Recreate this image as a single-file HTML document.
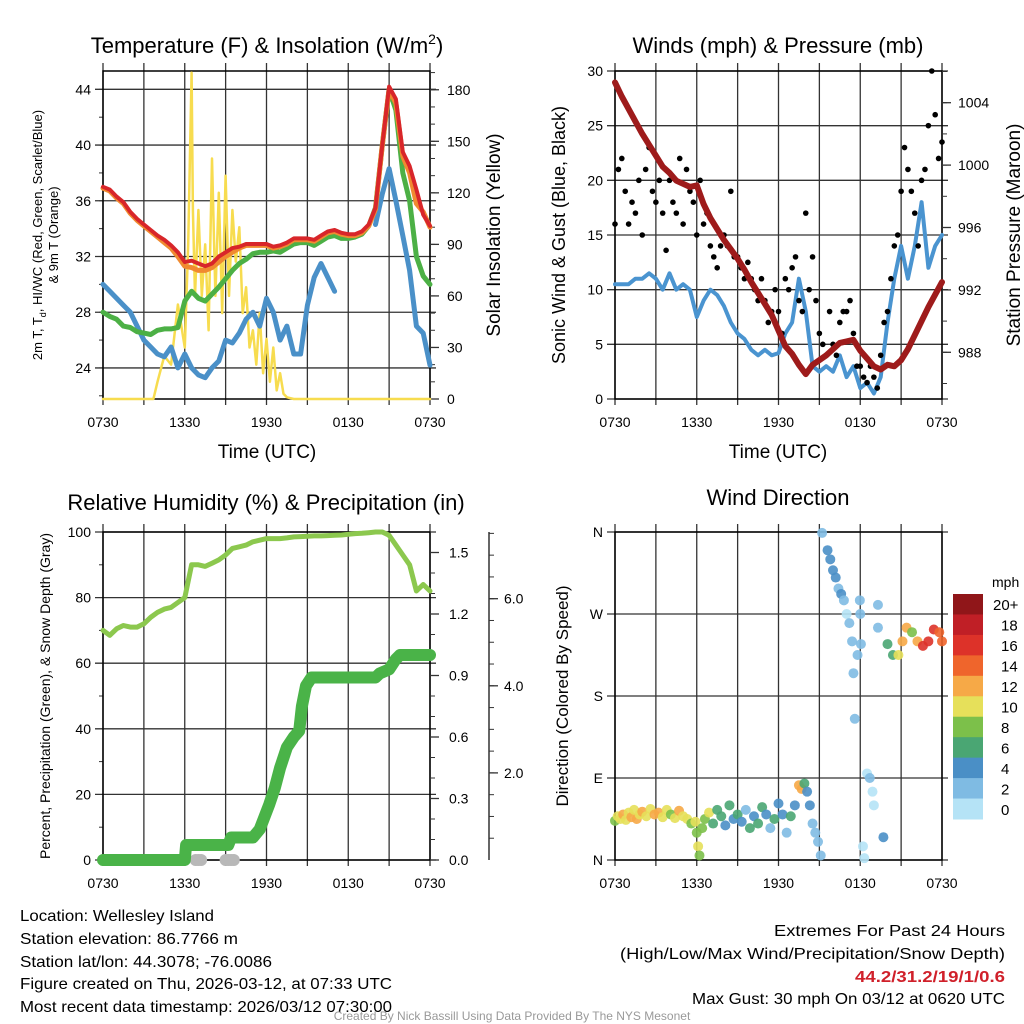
<!DOCTYPE html>
<html><head><meta charset="utf-8"><style>
html,body{margin:0;padding:0;background:#fff}
svg{display:block;font-family:"Liberation Sans",sans-serif}
</style></head><body>
<svg id="fig" width="1024" height="1024" viewBox="0 0 1024 1024" xmlns="http://www.w3.org/2000/svg">
<rect width="1024" height="1024" fill="#fff"/>
<g id="g-temp"></g>
<g id="g-wind"></g>
<g id="g-rh"></g>
<g id="g-dir"></g>
<text x="267" y="53" font-size="22" text-anchor="middle">Temperature (F) &amp; Insolation (W/m<tspan dy="-9" font-size="14">2</tspan><tspan dy="9">)</tspan></text>
<text x="778" y="53" font-size="22" text-anchor="middle">Winds (mph) &amp; Pressure (mb)</text>
<text x="266" y="510" font-size="22" text-anchor="middle">Relative Humidity (%) &amp; Precipitation (in)</text>
<text x="778" y="505" font-size="22" text-anchor="middle">Wind Direction</text>
<text x="267" y="458" font-size="19" text-anchor="middle">Time (UTC)</text>
<text x="778" y="458" font-size="19" text-anchor="middle">Time (UTC)</text>
<text transform="translate(42,235) rotate(-90)" font-size="13" text-anchor="middle">2m T, T<tspan dy="4" font-size="9">d</tspan><tspan dy="-4">, HI/WC (Red, Green, Scarlet/Blue)</tspan></text>
<text transform="translate(58,235) rotate(-90)" font-size="13" text-anchor="middle">&amp; 9m T (Orange)</text>
<text transform="translate(500,235) rotate(-90)" font-size="19" text-anchor="middle">Solar Insolation (Yellow)</text>
<text transform="translate(565,235) rotate(-90)" font-size="18" text-anchor="middle">Sonic Wind &amp; Gust (Blue, Black)</text>
<text transform="translate(1020,235) rotate(-90)" font-size="19" text-anchor="middle">Station Pressure (Maroon)</text>
<text transform="translate(50,696) rotate(-90)" font-size="14" text-anchor="middle">Percent, Precipitation (Green), &amp; Snow Depth (Gray)</text>
<text transform="translate(568,696) rotate(-90)" font-size="17" text-anchor="middle">Direction (Colored By Speed)</text>
<g font-size="16">
<text x="20" y="921" textLength="194" lengthAdjust="spacingAndGlyphs">Location: Wellesley Island</text>
<text x="20" y="944" textLength="218" lengthAdjust="spacingAndGlyphs">Station elevation: 86.7766 m</text>
<text x="20" y="967" textLength="252" lengthAdjust="spacingAndGlyphs">Station lat/lon: 44.3078; -76.0086</text>
<text x="20" y="989" textLength="372" lengthAdjust="spacingAndGlyphs">Figure created on Thu, 2026-03-12, at 07:33 UTC</text>
<text x="20" y="1012" textLength="372" lengthAdjust="spacingAndGlyphs">Most recent data timestamp: 2026/03/12 07:30:00</text>
</g>
<g font-size="16">
<text x="774" y="936" textLength="231" lengthAdjust="spacingAndGlyphs">Extremes For Past 24 Hours</text>
<text x="620" y="959" textLength="385" lengthAdjust="spacingAndGlyphs">(High/Low/Max Wind/Precipitation/Snow Depth)</text>
<text x="855" y="982" fill="#d0202a" font-weight="bold" textLength="150" lengthAdjust="spacingAndGlyphs">44.2/31.2/19/1/0.6</text>
<text x="692" y="1004" textLength="313" lengthAdjust="spacingAndGlyphs">Max Gust: 30 mph On 03/12 at 0620 UTC</text>
</g>
<text x="512" y="1020" font-size="12" fill="#999" text-anchor="middle">Created By Nick Bassill Using Data Provided By The NYS Mesonet</text>
</svg>
<script>
const hours=[0,0.5,1,1.5,2,2.5,3,3.5,4,4.5,5,5.5,6,6.5,7,7.5,8,8.5,9,9.5,10,10.5,11,11.5,12,12.5,13,13.5,14,14.5,15,15.5,16,16.5,17,17.5,18,18.5,19,19.5,20,20.5,21,21.5,22,22.5,23,23.5,24];
const timeLabels=["0730","1330","1930","0130","0730"];
const tempT=[37,36.8,36.3,35.9,35.2,34.7,34.3,33.9,33.5,33.2,32.8,32.3,31.6,31.7,31.5,31.3,31.5,32.0,32.3,32.6,32.7,32.9,32.9,32.9,32.9,32.7,32.8,33.0,33.3,33.3,33.3,33.2,33.5,33.8,33.9,33.7,33.6,33.6,33.8,34.3,35.5,40.0,44.2,43.3,39.5,38.5,36.8,35.0,34.2];
const temp9m=[36.9,36.7,36.2,35.8,35.1,34.6,34.2,33.8,33.4,33.0,32.6,32.0,31.3,31.2,31.0,31.0,31.2,31.6,32.0,32.3,32.6,32.8,32.8,32.8,32.8,32.6,32.7,32.9,33.2,33.2,33.2,33.1,33.4,33.7,33.8,33.6,33.5,33.5,33.7,34.2,35.4,40.0,44.0,43.0,39.2,38.0,35.8,35.2,34.1];
const dewT=[28,27.7,27.5,27.0,26.9,26.6,26.5,26.4,26.7,26.8,26.8,26.9,28.8,29.5,29.0,28.8,29.3,29.8,30.4,31.0,31.5,31.8,32.2,32.3,32.3,32.4,32.3,32.6,32.9,33.0,33.0,32.8,33.1,33.4,33.5,33.3,33.3,33.4,33.6,34.2,35.5,40.0,44.0,42.5,38.0,36.0,32.0,30.6,30.0];
const windChill=[30,29.5,29,28.5,28,27,26,25.5,25,24.8,25.5,24,25,24,23.5,23.3,24,24.5,26,25.8,26.5,27.5,28,27,29,28,26,27,25,25,28.5,30.5,31.5,30.5,29.5,null,null,null,null,null,34.3,36.5,38.3,36,33.5,31,27,26.5,24.2];
const solarHours=[0,3.7,4,4.5,5,5.5,6,6.25,6.5,6.6,6.75,7,7.25,7.5,7.75,8,8.25,8.5,8.75,9,9.25,9.5,9.75,10,10.25,10.5,10.75,11,11.25,11.5,11.75,12,12.25,12.5,12.75,13,13.25,13.5,14,24];
const solarVals=[0,0,10,25,20,55,30,90,190,110,60,110,60,90,40,140,60,120,50,130,60,110,80,100,50,65,30,40,20,50,15,35,10,30,5,15,3,1,0,0];
const windSpeed=[10.5,10.5,10.5,11,11,11.5,11,10,11.5,10,10.5,10,7.5,9,10,9.5,8.5,7,6,5.5,4.5,4,4.5,4,4.2,6,7,11,8,3,2.5,3,2.5,4,2,3,1,1.5,0.5,2,7,11,14,11,14,18,12,14,15];
const pressure=[1005.3,1004.4,1003.6,1002.8,1002.0,1001.3,1000.6,999.9,999.5,999.0,998.8,998.6,998.7,997.5,996.6,995.9,995.2,994.6,994.0,993.3,992.5,991.8,991.1,990.4,989.4,988.4,987.9,987.2,986.6,987.2,987.5,987.8,988.2,988.6,988.7,988.8,988.1,987.6,987.1,986.9,987.2,987.1,987.5,988.2,989.1,990.0,990.9,991.7,992.5];
const gustHours=[0,0.25,0.5,0.75,1,1.25,1.5,1.75,2,2.25,2.5,2.75,3,3.25,3.5,3.75,4,4.25,4.5,4.75,5,5.25,5.5,5.75,6,6.25,6.5,6.75,7,7.25,7.5,7.75,8,8.25,8.5,8.75,9,9.25,9.5,9.75,10,10.25,10.5,10.75,11,11.25,11.5,11.75,12,12.25,12.5,12.75,13,13.25,13.5,13.75,14,14.25,14.5,14.75,15,15.25,15.5,15.75,16,16.25,16.5,16.75,17,17.25,17.5,17.75,18,18.25,18.5,18.75,19,19.25,19.5,19.75,20,20.25,20.5,20.75,21,21.25,21.5,21.75,22,22.25,22.5,22.75,23,23.25,23.5,23.75,24];
const gustVals=[16,21,22,19,16,18,17,20,15,21,23,19,18,20,17,13.6,20,18,17,22,16,21,19,18,15,20,16,17,14,13,12,14,15,14,19,13,13,12,11,12.5,11,10,9,11,9,7,8,10,8,6,11,10,12,13,9,8,17,10,13,9,6,5,4,8,5,4,7,8,8,9,6,3,3,2,1.5,3,2,1,4,7,8,11,14,15,19,23,21,19,17,14,20,21,25,30,26,22,23.5];
const rhVals=[70,68.5,70.5,71.5,71,71,72,74,75.5,76.5,77,78.5,80,90,90,89.5,90.5,91.5,93,95,95.5,96,97,97.5,98,98,98,98.2,98.5,98.6,98.7,98.8,98.8,98.9,99,99.1,99.3,99.5,99.6,99.8,100,100,99,96,93,90,82,84,82];
const precipHours=[0,6,6.1,9.2,9.4,11,11.5,12.2,12.6,13,13.5,14,14.4,14.6,14.9,15.3,20,20.3,21,21.5,21.8,24];
const precipVals=[0,0,0.073,0.073,0.11,0.11,0.15,0.27,0.35,0.45,0.55,0.6,0.63,0.75,0.85,0.89,0.89,0.91,0.93,0.98,1.0,1.0];
const snowHours=[6.8,7.0,7.2,9.0,9.2,9.4,9.6];
const snowVals=[0,0,0,0,0,0,0];
const dirHours=[0,0.2,0.4,0.6,0.8,1,1.2,1.4,1.6,1.8,2,2.3,2.6,2.9,3.2,3.5,3.8,4.1,4.4,4.7,5,5.3,5.6,5.9,6.0,6.1,6.2,6.4,6.6,6.9,7.2,7.5,7.8,8.1,8.4,8.7,9,9.3,9.6,9.9,10.2,10.5,10.8,11.1,11.4,11.7,12,12.3,12.6,12.9,13.2,13.5,13.7,13.9,14.1,14.3,14.5,14.7,14.9,15.1,15.2,15.6,15.8,16,16.2,16.4,16.6,16.8,17,17.2,17.4,17.5,17.6,17.8,17.97,18,18.05,18.2,18.3,18.5,18.7,18.9,19,19.3,19.3,19.7,20,20.4,20.8,21.1,21.4,21.8,22.2,22.6,23,23.4,23.8,24];
const dirVals=[43,48,45,50,44,52,47,55,45,50,53,48,56,50,52,47,55,50,46,54,48,45,40,42,30,15,5,35,45,52,40,55,48,38,60,45,50,42,55,35,48,40,58,50,35,45,62,50,30,48,60,82,78,84,75,60,40,30,20,5,359,340,330,318,310,298,292,285,270,260,240,205,155,225,285,270,237,15,2,95,90,75,60,280,255,25,237,225,225,240,255,250,240,235,240,253,250,240,236];
const dirSpeed=[8,10,11,12,10,11,12,10,13,11,12,10,11,12,12,10,11,9,10,12,11,10,9,10,9,10,9,8,8,10,6,7,6,5,7,4,6,5,3,7,4,6,7,5,3,6,4,5,3,7,4,12,12,7,5,5,3,2,3,2,3,4,4,4,4,3,4,3,1,3,2,3,2,3,3,3,3,1,1,1,2,1,1,3,3,4,6,7,10,13,12,9,13,17,17,16,15,14];
const speedLabels=["20+","18","16","14","12","10","8","6","4","2","0"];
const speedColors=["#901619","#c01f26","#dd3229","#ef652c","#f6a947","#e6e05a","#7cc04a","#4aa673","#4a8fc6","#7fbbe3","#b5e3f6"];

const NS="http://www.w3.org/2000/svg";
function el(tag,attrs,parent){const e=document.createElementNS(NS,tag);for(const k in attrs)e.setAttribute(k,attrs[k]);parent.appendChild(e);return e;}
const XW=327;
function xs(px0){return t=>px0+t*XW/24;}

function frame(g,px0,top,bot,yTicks,yScale,yMinor){
  const sx=xs(px0);
  for(let i=0;i<=8;i++){const x=sx(i*3);
    const l=el('line',{x1:x,x2:x,y1:top-8,y2:bot+6,stroke:'#333','stroke-width':1.3},g);
    
    
  }
  for(let i=0;i<5;i++){
    const t=el('text',{x:sx(i*6),y:bot+28,'font-size':14,'text-anchor':'middle'},g);
    t.textContent=timeLabels[i];
    
    
  }
  yMinor.forEach(v=>{const y=yScale(v);
    const l=el('line',{x1:px0-4,x2:px0,y1:y,y2:y,stroke:'#333','stroke-width':1},g);
    
    
  });
  yTicks.forEach(v=>{const y=yScale(v.v);
    const l=el('line',{x1:px0-8,x2:px0+XW+6,y1:y,y2:y,stroke:'#333','stroke-width':1.3},g);
    
    
    const t=el('text',{x:px0-12,y:y+5,'font-size':14,'text-anchor':'end'},g);
    t.textContent=v.l;
    
    
  });
  const r=el('rect',{x:px0,y:top,width:XW,height:bot-top,fill:'none',stroke:'#000','stroke-width':1.5},g);
  
  
  return sx;
}
function rightAxis(g,x,major,minor,yScale,labX,name){
  minor.forEach(v=>{const y=yScale(v);
    const l=el('line',{x1:x,x2:x+5,y1:y,y2:y,stroke:'#333','stroke-width':1},g);
    
    
  });
  major.forEach(v=>{const y=yScale(v.v);
    const l=el('line',{x1:x,x2:x+9,y1:y,y2:y,stroke:'#333','stroke-width':1.3},g);
    
    
    const t=el('text',{x:labX,y:y+5,'font-size':14},g);
    t.textContent=v.l;
    
    
  });
}
function line(g,xsArr,ysArr,sx,sy,color,w,name){
  let d='',pen=false;
  for(let i=0;i<xsArr.length;i++){const v=ysArr[i];
    if(v===null||v===undefined){pen=false;continue;}
    d+=(pen?'L':'M')+sx(xsArr[i]).toFixed(1)+','+sy(v).toFixed(1);pen=true;}
  const p=el('path',{d:d,fill:'none',stroke:color,'stroke-width':w,'stroke-linejoin':'round','stroke-linecap':'round'},g);
  
  
  return p;
}
function range(a,b,s){const r=[];for(let v=a;v<=b+1e-9;v+=s)r.push(+v.toFixed(3));return r;}

{const g=document.getElementById('g-temp');
 const ty=v=>399-(v-21.77)*13.93, sy=v=>399-v*1.718;
 const sx=frame(g,103,71,399,[24,28,32,36,40,44].map(v=>({v:v,l:String(v)})),ty,range(22,44,2));
 rightAxis(g,430,range(0,180,30).map(v=>({v:v,l:String(v)})),range(0,190,10),sy,447,'solar');
 line(g,solarHours,solarVals,sx,sy,'#f7dc4f',2.5,'solar-insolation-line');
 line(g,hours,windChill,sx,ty,'#4a90c8',5,'wind-chill-line');
 line(g,hours,dewT,sx,ty,'#4cb045',5,'dewpoint-line');
 line(g,hours,temp9m,sx,ty,'#f08a30',5,'temp-9m-line');
 line(g,hours,tempT,sx,ty,'#d8262a',4,'temp-2m-line');
}
{const g=document.getElementById('g-wind');
 const wy=v=>399-v*328/30, py=v=>102.7-(v-1004)*15.6;
 const sx=frame(g,615,71,399,[0,5,10,15,20,25,30].map(v=>({v:v,l:String(v)})),wy,[]);
 rightAxis(g,942,[988,992,996,1000,1004].map(v=>({v:v,l:String(v)})),range(986,1006,2),py,958,'pressure');
 line(g,hours,windSpeed,sx,wy,'#4a94d0',4,'sonic-wind-line');
 gustHours.forEach((t,i)=>{
   const c=el('circle',{cx:sx(t),cy:wy(gustVals[i]),r:2.8,fill:'#000'},g);
   
   
 });
 line(g,hours,pressure,sx,py,'#9e1b1b',6,'pressure-line');
}
{const g=document.getElementById('g-rh');
 const ry=v=>860-v*3.28, pry=v=>860-v*205, sny=v=>860-v*43.55;
 const sx=frame(g,103,532,860,[0,20,40,60,80,100].map(v=>({v:v,l:String(v)})),ry,range(10,90,20));
 rightAxis(g,430,range(0,1.5,0.3).map(v=>({v:v,l:v.toFixed(1)})),range(0,1.6,0.1),pry,449,'precip');
 const ax=el('line',{x1:489,x2:489,y1:532,y2:860,stroke:'#333','stroke-width':1.5},g);
 
 
 rightAxis(g,489,[2,4,6].map(v=>({v:v,l:v.toFixed(1)})),range(0.5,7.5,0.5),sny,504,'snow');
 snowHours.forEach((t,i)=>{
   const c=el('circle',{cx:sx(t),cy:sny(snowVals[i]),r:6,fill:'#b8b8b8'},g);
   
   
 });
 line(g,precipHours,precipVals,sx,pry,'#4ab348',12,'precipitation-line');
 line(g,hours,rhVals,sx,ry,'#8cc84e',5,'humidity-line');
}
{const g=document.getElementById('g-dir');
 const dy=v=>860-v*328/360;
 const sx=frame(g,615,532,860,[{v:0,l:'N'},{v:90,l:'E'},{v:180,l:'S'},{v:270,l:'W'},{v:360,l:'N'}],dy,[]);
 dirHours.forEach((t,i)=>{
   const s=dirSpeed[i];const bin=Math.min(10,Math.floor(s/2));
   const c=el('circle',{cx:sx(t),cy:dy(dirVals[i]),r:5,fill:speedColors[10-bin],'fill-opacity':0.9},g);
   
   
 });
 const h=225/11;
 speedLabels.forEach((lab,i)=>{
   const r=el('rect',{x:953,y:594+i*h,width:30,height:h+0.5,fill:speedColors[i]},g);
   
   
   const t=el('text',{x:lab.length>2?993:1001,y:594+i*h+h/2+6,'font-size':15},g);
   t.textContent=lab;
   
   
 });
 const m=el('text',{x:992,y:587,'font-size':14},g);
 m.textContent='mph';
 
 
}
</script>
</body></html>
